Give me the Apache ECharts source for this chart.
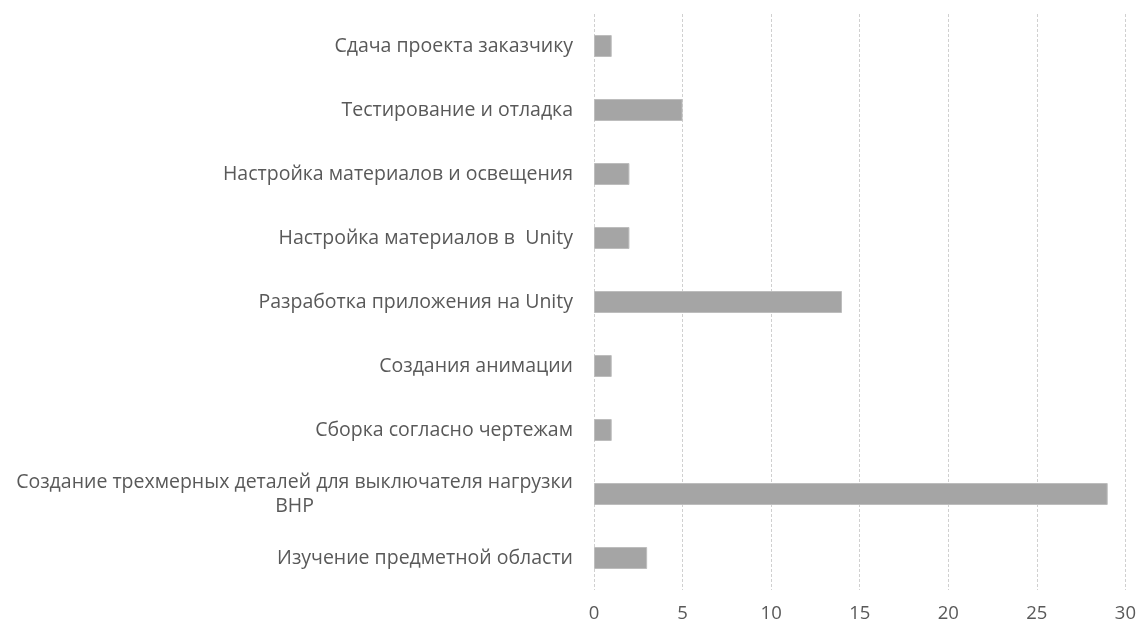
<!DOCTYPE html>
<html><head><meta charset="utf-8">
<script src="https://cdn.jsdelivr.net/npm/echarts@6/dist/echarts.min.js"></script>
<style>html,body{margin:0;padding:0;background:#fff}#c{width:1139px;height:628px}</style>
</head><body><div id="c"></div>
<script>
// top to bottom
var categories = [
  'Сдача проекта заказчику',
  'Тестирование и отладка',
  'Настройка материалов и освещения',
  'Настройка материалов в  Unity',
  'Разработка приложения на Unity',
  'Создания анимации',
  'Сборка согласно чертежам',
  'Создание трехмерных деталей для выключателя нагрузки\nВНР',
  'Изучение предметной области'
];
var values = [1, 5, 2, 2, 14, 1, 1, 29, 3];
var xTicks = {min: 0, max: 30, interval: 5};

var chart = echarts.init(document.getElementById('c'), null, {renderer: 'canvas'});
chart.setOption({
  animation: false,
  grid: {left: 594, right: 12, top: 14, bottom: 38, containLabel: false},
  xAxis: {
    type: 'value', min: xTicks.min, max: xTicks.max, interval: xTicks.interval,
    axisLine: {show: false}, axisTick: {show: false},
    splitLine: {show: true, lineStyle: {color: '#d0d0d0', type: [3, 2], width: 1}},
    axisLabel: {color: '#595959', fontSize: 18.5, fontFamily: 'Open Sans', margin: 14}
  },
  yAxis: {
    type: 'category', data: categories, inverse: true,
    axisLine: {show: false}, axisTick: {show: false},
    axisLabel: {
      color: '#595959', fontSize: 19.5, fontFamily: 'Open Sans', margin: 21,
      formatter: function (v) {
        return v.split('\n').map(function (s) { return '{c|' + s + '}'; }).join('\n');
      },
      rich: {c: {align: 'center', color: '#595959', fontSize: 19.5, fontFamily: 'Open Sans', lineHeight: 24}}
    }
  },
  series: [{
    type: 'bar', data: values, barWidth: 22,
    itemStyle: {color: '#a5a5a5', borderColor: '#bdbdbd', borderWidth: 1}
  }]
});
</script></body></html>
